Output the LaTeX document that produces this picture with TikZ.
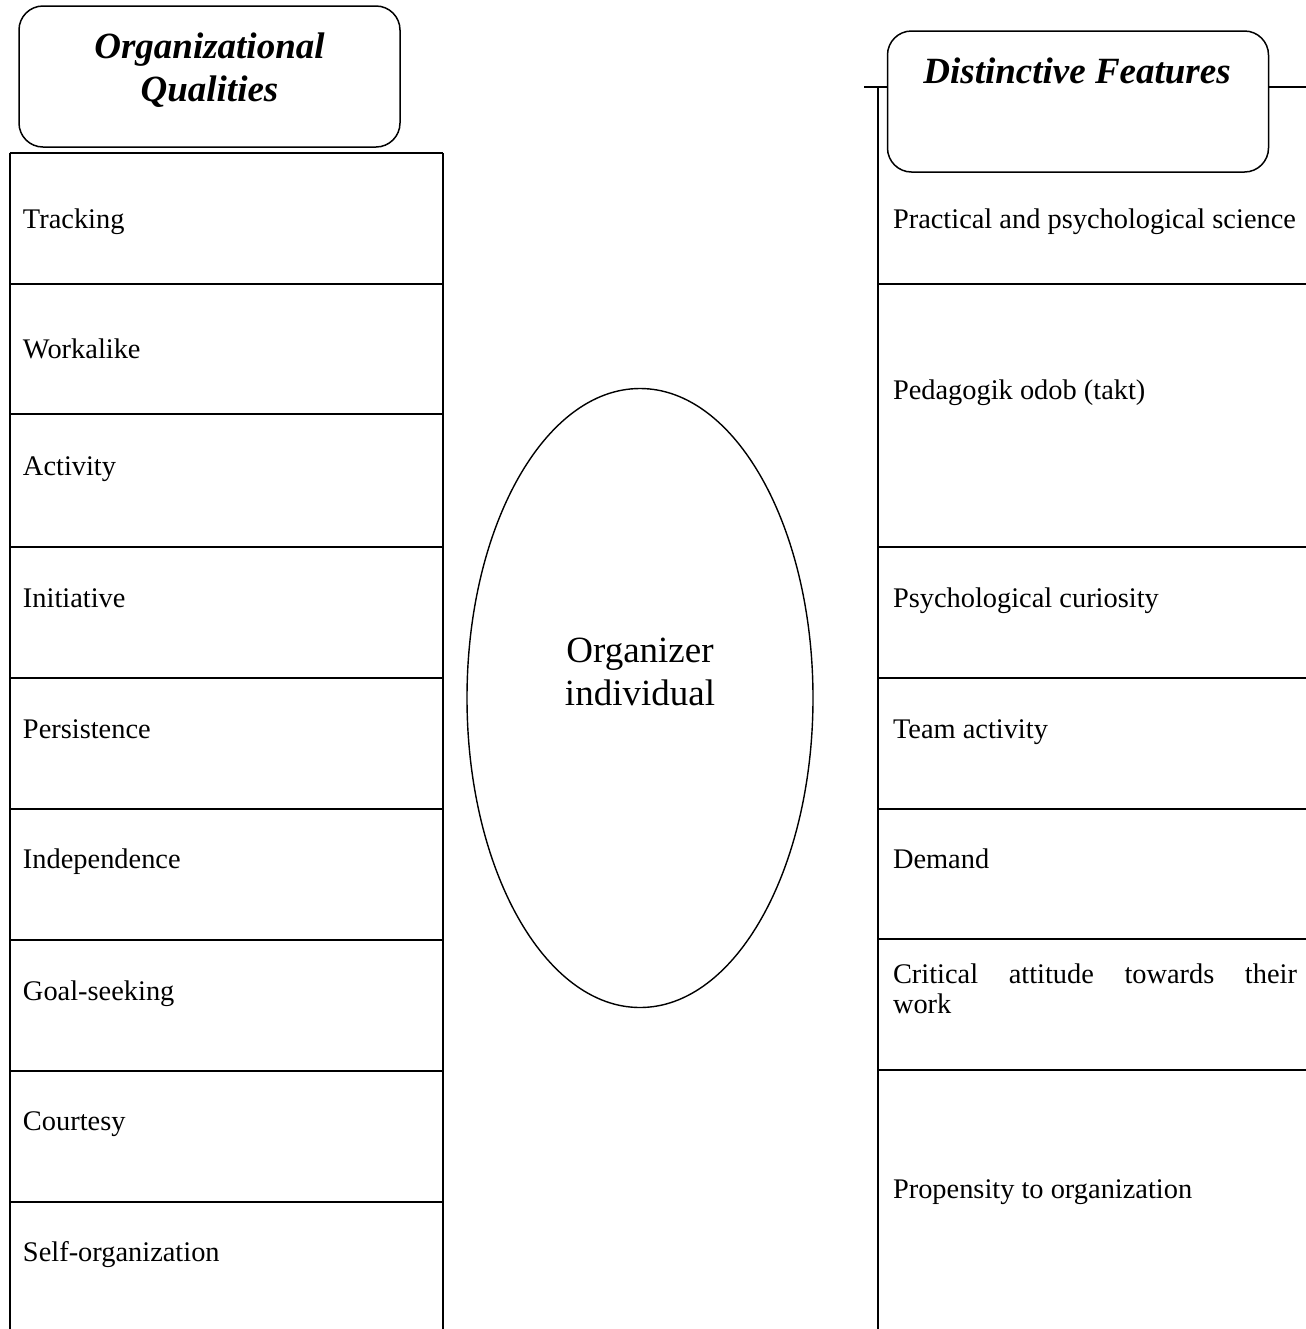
\documentclass[tikz,border=0pt]{standalone}
\usepackage{fontspec}
\setmainfont{Liberation Serif}
\usetikzlibrary{shapes.geometric}

\begin{document}
\begin{tikzpicture}[x=0.5pt, y=-0.5pt, line width=1pt]
    \tikzstyle{hdrbox}=[rectangle, draw, rounded corners=12pt, fill=white, line width=0.75pt, minimum width=190.5pt, minimum height=70.5pt, inner sep=0pt]
    \tikzstyle{hdr}=[inner sep=0pt, font=\fontsize{18.5}{23}\selectfont\bfseries\itshape]
    \tikzstyle{item}=[anchor=base west, inner sep=0pt, font=\fontsize{14.2}{15}\selectfont]
    \tikzstyle{mid}=[anchor=base, inner sep=0pt, font=\fontsize{18.5}{21.5}\selectfont]
    \tikzstyle{org}=[ellipse, draw, line width=0.7pt, minimum width=173pt, minimum height=309.5pt, inner sep=0pt]

    \useasboundingbox (0,0) rectangle (1306,1329);

    % left table
    \draw (9.5,153) -- (9.5,1329);
    \draw (443,153) -- (443,1329);
    \foreach \y in {153,284,414,547,678,809,940,1071,1202}
        \draw (9.5,\y) -- (443,\y);

    % right table
    \draw (864,87) -- (1306,87);
    \draw (878,87) -- (878,1329);
    \foreach \y in {284,547,678,809,939,1070}
        \draw (878,\y) -- (1306,\y);

    \node[hdrbox] (qbox) at (209.5,76.5) {};
    \node[hdr, anchor=base] (qtop) at (209.5,58) {Organizational};
    \node[hdr, anchor=base] (qbot) at (209.5,101) {Qualities};

    \node[hdrbox] (fbox) at (1078,101.5) {};
    \node[hdr, anchor=base] (ftitle) at (1077,83) {Distinctive Features};

    \node[item] (q1) at (22,228) {Tracking};
    \node[item] (q2) at (22,358) {Workalike};
    \node[item] (q3) at (22,475) {Activity};
    \node[item] (q4) at (22,607) {Initiative};
    \node[item] (q5) at (22,738) {Persistence};
    \node[item] (q6) at (22,868) {Independence};
    \node[item] (q7) at (22,1000) {Goal-seeking};
    \node[item] (q8) at (22,1130) {Courtesy};
    \node[item] (q9) at (22,1261) {Self-organization};

    \node[org] (ind) at (640,698) {};
    \node[mid] (ind1) at (640,662) {Organizer};
    \node[mid] (ind2) at (640,705) {individual};

    \node[item] (f1) at (892,228) {Practical and psychological science};
    \node[item] (f2) at (892,399) {Pedagogik odob (takt)};
    \node[item] (f3) at (892,607) {Psychological curiosity};
    \node[item] (f4) at (892,738) {Team activity};
    \node[item] (f5) at (892,868) {Demand};
    \node[item] (f6) at (892,983) {\makebox[202pt][s]{Critical attitude towards their}};
    \node[item] (f7) at (892,1013) {work};
    \node[item] (f8) at (892,1198) {Propensity to organization};
\end{tikzpicture}
\end{document}
